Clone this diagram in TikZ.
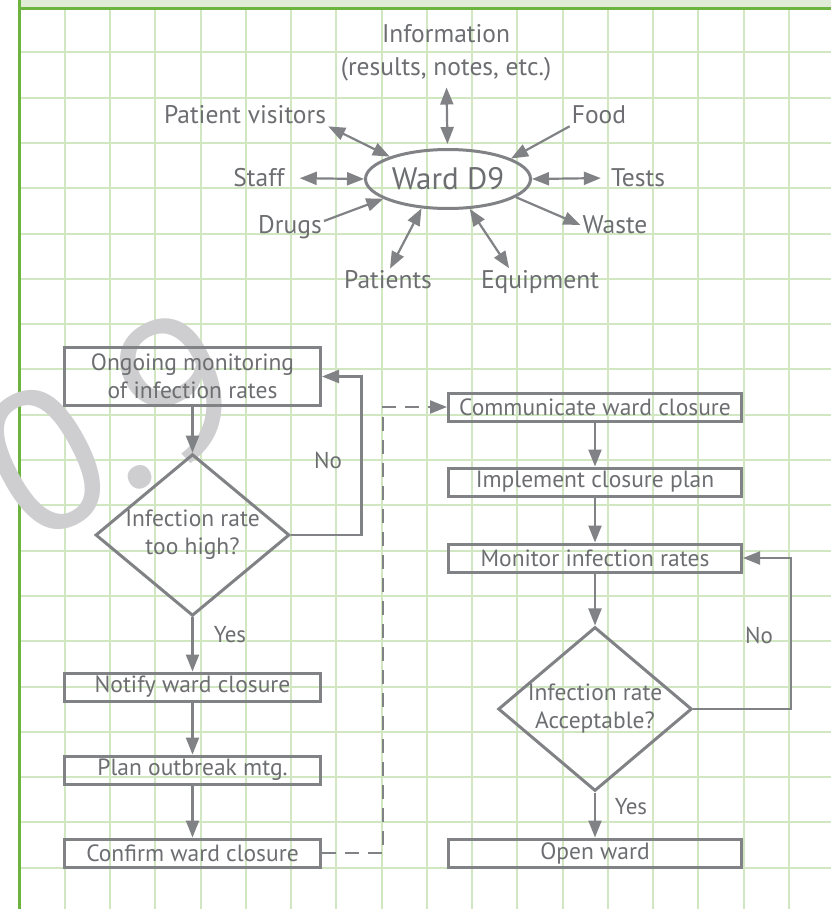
\documentclass[tikz,border=0pt]{standalone}
\usepackage{fontspec}
\setmainfont{PT Sans}
\usepackage{tikz}
\usetikzlibrary{arrows.meta, shapes.geometric}
\definecolor{gridgreen}{RGB}{208,231,193}
\definecolor{bordergreen}{RGB}{109,179,63}
\definecolor{bandgreen}{RGB}{225,236,214}
\definecolor{inkgray}{RGB}{109,110,113}
\definecolor{linegray}{RGB}{128,130,133}
\definecolor{markgray}{RGB}{206,206,208}

\begin{document}
\begin{tikzpicture}[
    x=1pt, y=-1pt,
    >={Triangle[length=17pt, width=13pt]},
    every node/.style={text=inkgray},
    box/.style={draw=linegray, line width=3pt, minimum width=256pt, minimum height=28pt, inner sep=0pt, font=\fontsize{23.5}{28}\selectfont, align=center},
    wide/.style={box, minimum width=293pt},
    decision/.style={diamond, draw=linegray, line width=3pt, aspect=1.2, inner sep=0pt, minimum width=192pt, minimum height=160pt, font=\fontsize{23.5}{28}\selectfont, align=center},
    feed/.style={font=\fontsize{25.5}{33}\selectfont, inner sep=2pt, align=center},
    flow/.style={draw=linegray, line width=2.2pt},
    answer/.style={font=\fontsize{23}{25}\selectfont},
]
    \fill[white] (0,0) rectangle (831,909);
    \useasboundingbox (0,0) rectangle (831,909);

    % Grid paper
    \foreach \k in {1,...,17}
        \draw[gridgreen, line width=2pt] (19.5+45.25*\k, 9) -- (19.5+45.25*\k, 909);
    \foreach \k in {1,...,19}
        \draw[gridgreen, line width=2pt] (20, 7+45.3*\k) -- (831, 7+45.3*\k);
    \fill[bandgreen] (20,0) rectangle (831,7);
    \draw[bordergreen, line width=3pt] (18,8.5) -- (831,8.5);
    \draw[bordergreen, line width=3pt] (19.5,0) -- (19.5,909);

    % Stamp
    \node[text=markgray, font=\fontsize{200}{200}\selectfont, rotate=28, inner sep=0pt] (stamp) at (112,424) {0.9};

    % Ward and what goes in and out
    \node[ellipse, draw=linegray, line width=3pt, minimum width=165pt, minimum height=59pt, inner sep=0pt, font=\fontsize{31}{31}\selectfont] (ward) at (448,179) {Ward D9};
    \node[feed] (info) at (446,53) {Information\\(results, notes, etc.)};
    \node[feed] (visitors) at (245,115) {Patient visitors};
    \node[feed] (food) at (599,115) {Food};
    \node[feed] (staff) at (259,178) {Staff};
    \node[feed] (tests) at (638,178) {Tests};
    \node[feed] (drugs) at (290,227) {Drugs};
    \node[feed] (waste) at (615,225) {Waste};
    \node[feed] (patients) at (388,280) {Patients};
    \node[feed] (equip) at (540,282) {Equipment};

    \draw[flow, <->, shorten <=4pt, shorten >=4pt] (info) -- (ward);
    \draw[flow, <->] (visitors.south east) -- (ward.159);
    \draw[flow, ->] (food.south west) -- (ward.18);
    \draw[flow, <->, shorten <=13pt] (staff.east) -- (ward.west);
    \draw[flow, <->, shorten >=8pt] (ward.east) -- (tests.west);
    \draw[flow, ->] (drugs.10) -- (ward.197);
    \draw[flow, ->] (ward.-15) -- (waste.west);
    \draw[flow, <->] (ward.228) -- (patients.80);
    \draw[flow, <->] (ward.-54) -- (equip.156);

    % Closing the ward
    \node[box, minimum height=58pt] (monitoring) at (192.5,376.5) {Ongoing monitoring\\of infection rates};
    \node[decision] (toohigh) at (192.5,535) {Infection rate\\too high?};
    \node[box] (notify) at (192.5,687) {Notify ward closure};
    \node[box] (plan) at (192.5,770) {Plan outbreak mtg.};
    \node[box] (confirm) at (192.5,853) {Confirm ward closure};

    % Reopening the ward
    \node[wide] (communicate) at (595,407) {Communicate ward closure};
    \node[wide] (implement) at (595,482) {Implement closure plan};
    \node[wide] (monitor) at (595,558) {Monitor infection rates};
    \node[decision, minimum height=164pt] (acceptable) at (595,709) {Infection rate\\Acceptable?};
    \node[wide] (open) at (595,853) {Open ward};

    % Arrows
    \draw[flow, ->] (monitoring) -- (toohigh);
    \draw[flow, ->] (toohigh.east) -- ++(70.5,0) |- (monitoring.east);
    \node[answer] (no1) at (328,460) {No};
    \draw[flow, ->] (toohigh) -- (notify);
    \node[answer] (yes1) at (230,635) {Yes};
    \draw[flow, ->] (notify) -- (plan);
    \draw[flow, ->] (plan) -- (confirm);
    \draw[flow, ->, dash pattern=on 14pt off 9pt] (confirm.east) -- ++(61,0) |- (communicate.west);

    \draw[flow, ->] (communicate) -- (implement);
    \draw[flow, ->] (implement) -- (monitor);
    \draw[flow, ->] (monitor) -- (acceptable);
    \draw[flow, ->] (acceptable.east) -- ++(98,0) |- (monitor.east);
    \node[answer] (no2) at (759,635) {No};
    \draw[flow, ->] (acceptable) -- (open);
    \node[answer] (yes2) at (631,807) {Yes};
\end{tikzpicture}
\end{document}
